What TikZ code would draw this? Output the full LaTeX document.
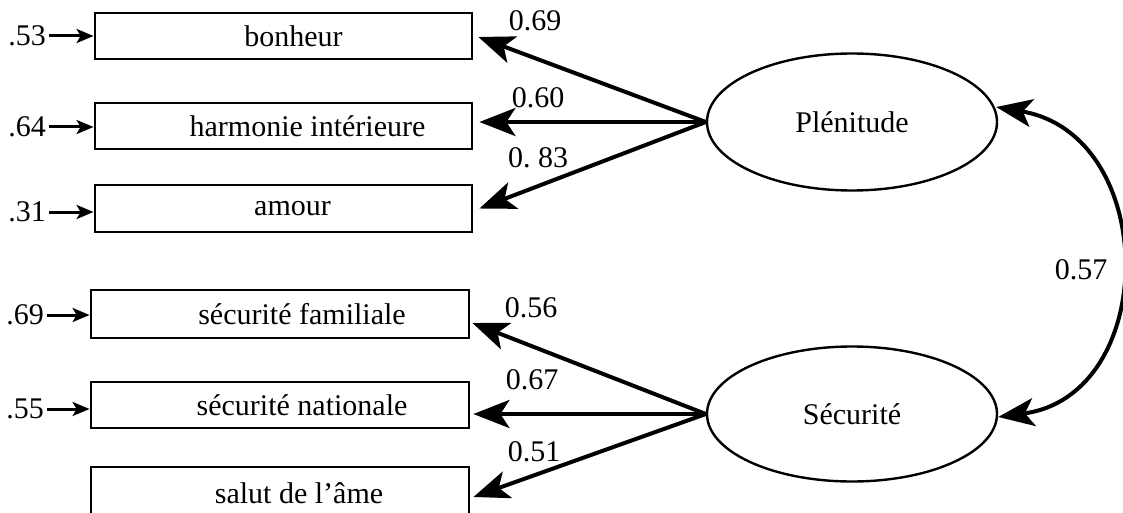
\documentclass[tikz,border=0pt]{standalone}
\usepackage{fontspec}
\setmainfont{Liberation Serif}
\usetikzlibrary{shapes.geometric,arrows.meta}
\begin{document}
\begin{tikzpicture}[x=1pt,y=-1pt,
  font=\fontsize{30}{36}\selectfont,
  obs/.style={draw, line width=2.8pt, rectangle, inner sep=0pt,
    minimum width=377pt, minimum height=46pt},
  latent/.style={draw, line width=2.4pt, ellipse, inner sep=0pt,
    minimum width=290pt, minimum height=136pt},
  bighead/.tip={Stealth[length=36pt,width=28pt,inset=9pt]},
  load/.style={line width=4pt, -bighead},
  corr/.style={line width=4pt, bighead-bighead},
  res/.style={line width=3pt, shorten <=3pt,
    -{Stealth[length=17pt,width=14pt,inset=4pt]}},
  coef/.style={inner sep=0pt},
]
\useasboundingbox (0,0) rectangle (1123,513);
\clip (0,0) rectangle (1123,513);

% observed variables
\node[obs, label={[xshift=10pt]center:bonheur}] (bon) at (283.5,36) {};
\node[obs, label={[xshift=24pt]center:harmonie intérieure}] (har) at (283.5,126) {};
\node[obs, minimum height=47pt, label={[xshift=9pt]center:amour}] (amo) at (283.5,208.5) {};
\node[obs, minimum width=378pt, minimum height=48pt,
  label={[xshift=22pt]center:sécurité familiale}] (fam) at (280,314) {};
\node[obs, minimum width=378pt, label={[xshift=22pt]center:sécurité nationale}] (nat) at (280,405) {};
\node[obs, minimum width=378pt, minimum height=50pt,
  label={[xshift=19pt,yshift=-1pt]center:salut de l’âme}] (sal) at (280,492) {};

% latent factors
\node[latent, minimum height=137pt] (ple) at (852,122) {Plénitude};
\node[latent, minimum height=135pt] (sec) at (852,414) {Sécurité};

% residual variances
\node[coef, anchor=east] (e1) at (46,36) {.53};
\node[coef, anchor=east] (e2) at (46,127) {.64};
\node[coef, anchor=east] (e3) at (46,212) {.31};
\node[coef, anchor=east] (e4) at (44,315) {.69};
\node[coef, anchor=east] (e5) at (44,409) {.55};
\draw[res] (e1) -- (e1 -| bon.west);
\draw[res] (e2) -- (e2 -| har.west);
\draw[res] (e3) -- (e3 -| amo.west);
\draw[res] (e4) -- (e4 -| fam.west);
\draw[res] (e5) -- (e5 -| nat.west);

% factor loadings
\draw[load] (ple.west) -- ([xshift=5pt,yshift=-1pt]bon.east);
\draw[load] (ple.west) -- ([xshift=6pt]ple.west -| har.east);
\draw[load] (ple.west) -- ([xshift=6pt]amo.east);
\draw[load] (sec.west) -- ([xshift=2pt,yshift=-9pt]fam.east);
\draw[load] (sec.west) -- ([xshift=3pt]sec.west -| nat.east);
\draw[load] (sec.west) -- ([xshift=3pt,yshift=-5pt]sal.east);

\node[coef] (l1) at (535,21) {0.69};
\node[coef] (l2) at (538,98) {0.60};
\node[coef] (l3) at (538,158) {0.\ 83};
\node[coef] (l4) at (531,308) {0.56};
\node[coef] (l5) at (532,380) {0.67};
\node[coef] (l6) at (534,452) {0.51};

% factor correlation
\draw[corr] ([xshift=-2pt,yshift=15pt]ple.east)
  .. controls (1160,135) and (1160,395) .. ([yshift=-3pt]sec.east);
\node[coef] (r) at (1081,270) {0.57};
\end{tikzpicture}
\end{document}
